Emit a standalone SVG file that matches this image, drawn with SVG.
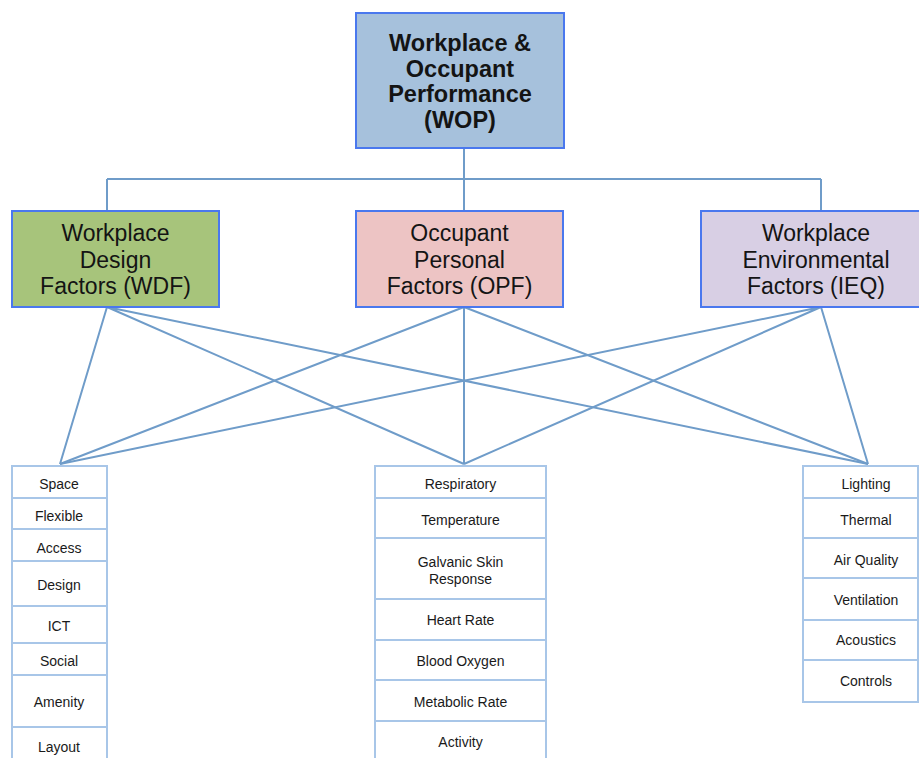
<svg xmlns="http://www.w3.org/2000/svg" width="919" height="758" viewBox="0 0 919 758">
<style>
.conn{stroke:#6f9cc9;stroke-width:2;fill:none}
.box{stroke:#4a78ee;stroke-width:2}
.row{fill:#ffffff;stroke:#a8c6e8;stroke-width:2}
.h{font-family:"Liberation Sans",Arial,sans-serif;font-size:23px;fill:#141414;text-anchor:middle}
.hb{font-family:"Liberation Sans",Arial,sans-serif;font-size:23.5px;font-weight:bold;fill:#141414;text-anchor:middle}
.t{font-family:"Liberation Sans",Arial,sans-serif;font-size:14px;fill:#1a1a1a;text-anchor:middle}
</style>
<rect width="919" height="758" fill="#ffffff"/>
<g id="connectors">
<path class="conn" d="M464 148 V211 M107 179 H821 M107 179 V211 M821 179 V211"/>
<path class="conn" d="M107 307 L60 464 M107 307 L464 464 M107 307 L868 464"/>
<path class="conn" d="M464 307 L60 464 M464 307 L464 464 M464 307 L868 464"/>
<path class="conn" d="M821 307 L60 464 M821 307 L464 464 M821 307 L868 464"/>
</g>
<g id="wop">
<rect class="box" x="356" y="13" width="208" height="135" fill="#a6c1dc"/>
<text class="hb" x="460" y="51">Workplace &amp;</text>
<text class="hb" x="460" y="77">Occupant</text>
<text class="hb" x="460" y="102">Performance</text>
<text class="hb" x="460" y="128">(WOP)</text>
</g>
<g id="wdf">
<rect class="box" x="12" y="211" width="207" height="96" fill="#a7c47b"/>
<text class="h" x="115.5" y="241">Workplace</text>
<text class="h" x="115.5" y="268">Design</text>
<text class="h" x="115.5" y="294">Factors (WDF)</text>
</g>
<g id="opf">
<rect class="box" x="356" y="211" width="207" height="96" fill="#edc4c4"/>
<text class="h" x="459.5" y="241">Occupant</text>
<text class="h" x="459.5" y="268">Personal</text>
<text class="h" x="459.5" y="294">Factors (OPF)</text>
</g>
<g id="ieq">
<rect class="box" x="701" y="211" width="230" height="96" fill="#d8cfe4"/>
<text class="h" x="816" y="241">Workplace</text>
<text class="h" x="816" y="268">Environmental</text>
<text class="h" x="816" y="294">Factors (IEQ)</text>
</g>
<g id="wdf-list">
<rect class="row" x="12" y="466" width="95" height="32"/>
<rect class="row" x="12" y="498" width="95" height="31"/>
<rect class="row" x="12" y="529" width="95" height="32"/>
<rect class="row" x="12" y="561" width="95" height="45"/>
<rect class="row" x="12" y="606" width="95" height="37"/>
<rect class="row" x="12" y="643" width="95" height="32"/>
<rect class="row" x="12" y="675" width="95" height="52"/>
<rect class="row" x="12" y="727" width="95" height="50"/>
<text class="t" x="59" y="489">Space</text>
<text class="t" x="59" y="521">Flexible</text>
<text class="t" x="59" y="553">Access</text>
<text class="t" x="59" y="590">Design</text>
<text class="t" x="59" y="631">ICT</text>
<text class="t" x="59" y="666">Social</text>
<text class="t" x="59" y="707">Amenity</text>
<text class="t" x="59" y="752">Layout</text>
</g>
<g id="opf-list">
<rect class="row" x="375" y="466" width="171" height="32"/>
<rect class="row" x="375" y="498" width="171" height="40"/>
<rect class="row" x="375" y="538" width="171" height="61"/>
<rect class="row" x="375" y="599" width="171" height="41"/>
<rect class="row" x="375" y="640" width="171" height="40"/>
<rect class="row" x="375" y="680" width="171" height="41"/>
<rect class="row" x="375" y="721" width="171" height="56"/>
<text class="t" x="460.5" y="489">Respiratory</text>
<text class="t" x="460.5" y="525">Temperature</text>
<text class="t" x="460.5" y="567">Galvanic Skin</text>
<text class="t" x="460.5" y="584">Response</text>
<text class="t" x="460.5" y="625">Heart Rate</text>
<text class="t" x="460.5" y="666">Blood Oxygen</text>
<text class="t" x="460.5" y="707">Metabolic Rate</text>
<text class="t" x="460.5" y="747">Activity</text>
</g>
<g id="ieq-list">
<rect class="row" x="803" y="466" width="115" height="32"/>
<rect class="row" x="803" y="498" width="115" height="40"/>
<rect class="row" x="803" y="538" width="115" height="40"/>
<rect class="row" x="803" y="578" width="115" height="42"/>
<rect class="row" x="803" y="620" width="115" height="40"/>
<rect class="row" x="803" y="660" width="115" height="42"/>
<text class="t" x="866" y="489">Lighting</text>
<text class="t" x="866" y="525">Thermal</text>
<text class="t" x="866" y="565">Air Quality</text>
<text class="t" x="866" y="605">Ventilation</text>
<text class="t" x="866" y="645">Acoustics</text>
<text class="t" x="866" y="686">Controls</text>
</g>
</svg>
